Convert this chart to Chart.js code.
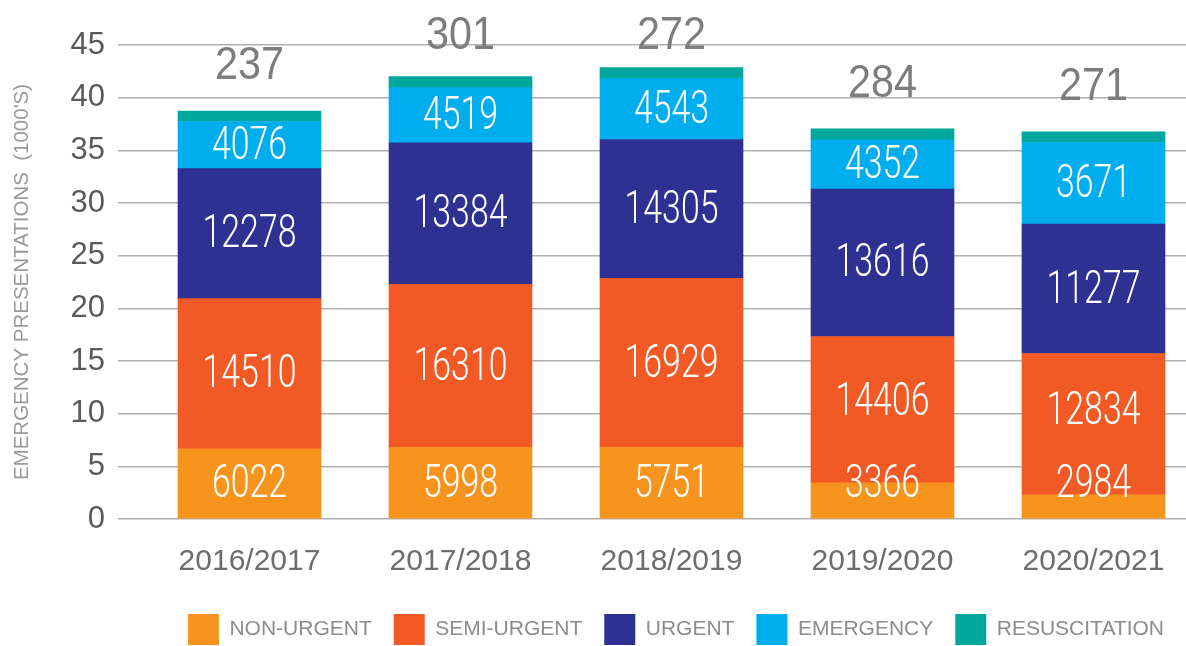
<!DOCTYPE html>
<html>
<head>
<meta charset="utf-8">
<script src="https://cdn.jsdelivr.net/npm/chart.js@4.4.0/dist/chart.umd.min.js"></script>
<style>
body { margin: 0; background: #fff; }
canvas { display: block; }
</style>
</head>
<body>
<canvas id="myChart" width="1186" height="646"></canvas>
<script>
var years = ['2016/2017', '2017/2018', '2018/2019', '2019/2020', '2020/2021'];
var yTicks = [0, 5, 10, 15, 20, 25, 30, 35, 40, 45];

// numbers printed on the bars
var nonUrgent = [6022, 5998, 5751, 3366, 2984];
var semiUrgent = [14510, 16310, 16929, 14406, 12834];
var urgent = [12278, 13384, 14305, 13616, 11277];
var emergency = [4076, 4519, 4543, 4352, 3671];
var resus = [237, 301, 272, 284, 271];

// segment heights as drawn in the picture (1000's)
var hNonUrgent = [6.67, 6.79, 6.79, 3.43, 2.29];
var hSemiUrgent = [14.25, 15.5, 16.07, 13.9, 13.42];
var hUrgent = [12.35, 13.42, 13.17, 14.0, 12.29];
var hEmergency = [4.47, 5.24, 5.78, 4.67, 7.74];
var hResus = [0.99, 1.05, 1.05, 1.05, 1.02];

var FONT = '"Liberation Sans", Arial, sans-serif';
var FONT_BAR = 'Roboto, "Liberation Sans", sans-serif';

function puntos(arr) {
    return arr.map(function(v, i) { return {x: i, y: v}; });
}

// narrow text: draw squeezed horizontally
function texto(ctx, txt, x, y, font, sx, color) {
    ctx.save();
    ctx.translate(x, y);
    ctx.scale(sx, 1);
    ctx.font = font;
    ctx.fillStyle = color;
    ctx.textAlign = 'center';
    ctx.textBaseline = 'middle';
    ctx.fillText(txt, 0, 0);
    ctx.restore();
}

var etiquetas = {
    id: 'etiquetas',
    afterDatasetsDraw: function(chart) {
        var ctx = chart.ctx;
        var counts = [nonUrgent, semiUrgent, urgent, emergency];
        for (var i = 0; i < years.length; i++) {
            var prevTop = null;
            for (var d = 0; d < 4; d++) {
                var bar = chart.getDatasetMeta(d).data[i];
                var top = bar.y, bottom = bar.base;
                var cy;
                if (prevTop === null) {
                    cy = Math.min((top + bottom) / 2, bottom - 35);
                } else {
                    cy = (top + Math.min(bottom, prevTop)) / 2;
                }
                texto(ctx, String(counts[d][i]), bar.x, cy + 2, '300 47px ' + FONT_BAR, 0.72, '#ffffff');
                prevTop = cy - 17;
            }
            var rb = chart.getDatasetMeta(4).data[i];
            texto(ctx, String(resus[i]), rb.x, Math.max(rb.y - 45, chart.chartArea.top - 9), '47px ' + FONT, 0.88, '#7d7d7d');
        }
    }
};

function creargraf() {
    var ctx = document.getElementById('myChart').getContext('2d');
    var myChart = new Chart(ctx, {
        type: 'bar',
        data: {
            datasets: [
                {label: 'NON-URGENT', data: puntos(hNonUrgent), backgroundColor: '#F7941D'},
                {label: 'SEMI-URGENT', data: puntos(hSemiUrgent), backgroundColor: '#F15A24'},
                {label: 'URGENT', data: puntos(hUrgent), backgroundColor: '#2E3192'},
                {label: 'EMERGENCY', data: puntos(hEmergency), backgroundColor: '#00AEEF'},
                {label: 'RESUSCITATION', data: puntos(hResus), backgroundColor: '#00A79D'}
            ]
        },
        options: {
            responsive: false,
            animation: false,
            devicePixelRatio: 1,
            barThickness: 143,
            borderWidth: 0,
            layout: {padding: {top: 45, right: 0, left: 0, bottom: -9}},
            plugins: {
                tooltip: {enabled: false},
                legend: {
                    position: 'bottom',
                    align: 'end',
                    labels: {
                        boxWidth: 31,
                        boxHeight: 31,
                        padding: 22,
                        color: '#8c8c8c',
                        font: {family: FONT, size: 21}
                    }
                }
            },
            scales: {
                x: {
                    type: 'linear',
                    stacked: true,
                    offset: false,
                    min: -0.6232,
                    max: 4.4384,
                    afterBuildTicks: function(scale) {
                        scale.ticks = years.map(function(y, i) { return {value: i}; });
                    },
                    afterFit: function(scale) { scale.height = 73; },
                    grid: {display: false, offset: false},
                    border: {display: false},
                    ticks: {
                        autoSkip: false,
                        maxRotation: 0,
                        padding: 17,
                        color: '#6d6d6d',
                        font: {family: FONT, size: 30},
                        callback: function(value) { return years[value]; }
                    }
                },
                y: {
                    stacked: true,
                    min: 0,
                    max: 45,
                    afterBuildTicks: function(scale) {
                        scale.ticks = yTicks.map(function(v) { return {value: v}; });
                    },
                    afterFit: function(scale) { scale.width = 118; },
                    grid: {color: '#b0b0b0', lineWidth: 1.5, drawTicks: false},
                    border: {display: false},
                    ticks: {
                        padding: 13,
                        color: '#595959',
                        font: {family: FONT, size: 31}
                    },
                    title: {
                        display: true,
                        text: "EMERGENCY PRESENTATIONS  (1000'S)",
                        color: '#9a9a9a',
                        font: {family: FONT, size: 20.5},
                        padding: {top: 10, bottom: 0}
                    }
                }
            }
        },
        plugins: [etiquetas]
    });
}

window.onload = function() {
    creargraf();
};
</script>
</body>
</html>
